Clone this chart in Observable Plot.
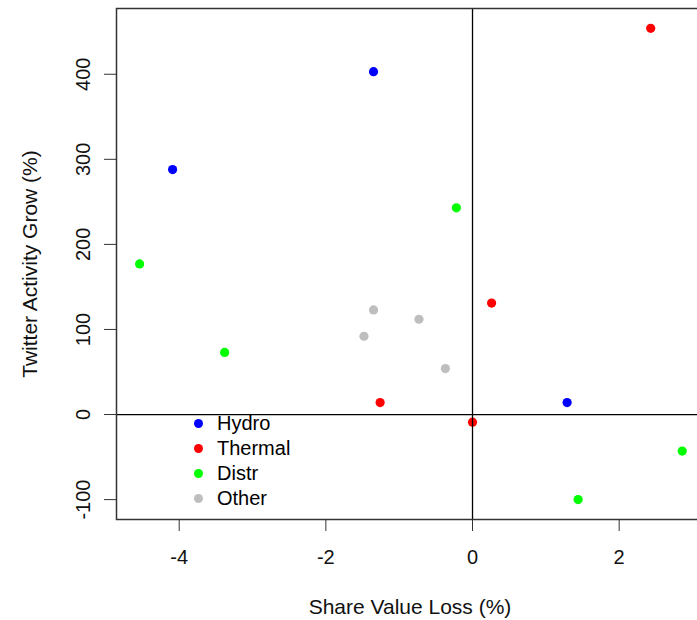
<!DOCTYPE html>
<html>
<head>
<meta charset="utf-8">
<script src="https://cdn.jsdelivr.net/npm/d3@7"></script>
<script src="https://cdn.jsdelivr.net/npm/@observablehq/plot@0.6"></script>
<style>
  html, body { margin: 0; padding: 0; overflow: hidden; background: #fff; }
  #wrap { position: relative; width: 697px; height: 620px; overflow: hidden; }
  #wrap svg { max-width: none !important; width: 703px; height: 620px; }
  #legend { position: absolute; left: 0; top: 0; font-family: "Liberation Sans", Arial, sans-serif; font-size: 20px; color: #000; }
  .item { position: absolute; height: 25px; line-height: 25px; white-space: nowrap; }
  .dot { position: absolute; width: 9px; height: 9px; border-radius: 50%; top: 8px; left: 0; }
  .lab { position: absolute; left: 23px; top: 0; }
</style>
</head>
<body>
<div id="wrap"><div id="legend"></div></div>
<script>
// ---- data ----
const groups = ["Hydro", "Thermal", "Distr", "Other"];
const groupColors = ["#0000FF", "#FF0000", "#00FF00", "#BEBEBE"];

const hydroLoss   = [-1.35, -4.09, 1.29];
const hydroGrow   = [403, 288, 14];
const thermalLoss = [2.43, 0.26, -1.26, 0.0];
const thermalGrow = [454, 131, 14, -9];
const distrLoss   = [-4.54, -3.38, -0.22, 2.86, 1.44];
const distrGrow   = [177, 73, 243, -43, -100];
const otherLoss   = [-1.35, -1.48, -0.73, -0.37];
const otherGrow   = [123, 92, 112, 54];

const xTicks = [-4, -2, 0, 2];
const yTicks = [-100, 0, 100, 200, 300, 400];
const xTitle = "Share Value Loss (%)";
const yTitle = "Twitter Activity Grow (%)";

// ---- build table ----
const seriesLoss = [hydroLoss, thermalLoss, distrLoss, otherLoss];
const seriesGrow = [hydroGrow, thermalGrow, distrGrow, otherGrow];
const data = [];
groups.forEach((g, i) => {
  seriesLoss[i].forEach((v, j) => data.push({group: g, loss: v, grow: seriesGrow[i][j]}));
});

const fmt = d => String(d); // hyphen-minus like the reference

const chart = Plot.plot({
  width: 703,
  height: 620,
  marginLeft: 116,
  marginRight: 0,
  marginTop: 8,
  marginBottom: 101,
  style: {fontFamily: "Liberation Sans, Arial, sans-serif", fontSize: "20px", color: "#111", background: "transparent", overflow: "visible", maxWidth: "none"},
  x: {domain: [-4.855, 3.15]},
  y: {domain: [-123.4, 477.3]},
  color: {domain: groups, range: groupColors},
  marks: [
    Plot.axisX({ticks: xTicks, tickFormat: fmt, tickSize: 12, tickPadding: 18, fontSize: 20, stroke: "#333", label: null}),
    Plot.axisX({ticks: [], fontSize: 21, label: xTitle, labelAnchor: "center", labelOffset: 94, labelArrow: "none"}),
    Plot.axisY({ticks: yTicks, tickFormat: fmt, tickSize: 12, tickPadding: 15, tickRotate: -90, fontSize: 20, stroke: "#333", label: null}),
    Plot.axisY({ticks: [], fontSize: 21, label: yTitle, labelAnchor: "center", labelOffset: 94, labelArrow: "none"}),
    Plot.dot(data, {x: "loss", y: "grow", fill: "group", r: 4.6}),
    Plot.ruleX([0], {stroke: "#000", strokeWidth: 1.3}),
    Plot.ruleY([0], {stroke: "#000", strokeWidth: 1.3}),
    Plot.frame({stroke: "#333", strokeWidth: 1.5})
  ]
});
chart.style.display = "block";
chart.style.maxWidth = "none";
const wrap = document.getElementById("wrap");
wrap.insertBefore(chart, wrap.firstChild);

// ---- legend (inside the plot area, like the reference) ----
const legend = document.getElementById("legend");
groups.forEach((g, i) => {
  const item = document.createElement("div");
  item.className = "item";
  item.style.left = "194px";
  item.style.top = (411 + i * 25) + "px";
  const dot = document.createElement("span");
  dot.className = "dot";
  dot.style.background = groupColors[i];
  const lab = document.createElement("span");
  lab.className = "lab";
  lab.textContent = g;
  item.appendChild(dot);
  item.appendChild(lab);
  legend.appendChild(item);
});
</script>
</body>
</html>
